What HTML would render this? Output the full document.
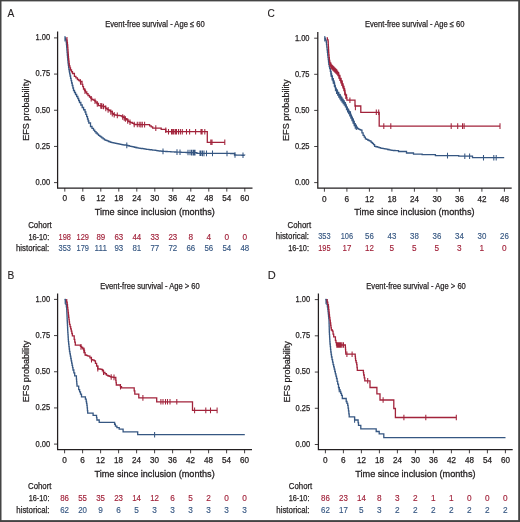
<!DOCTYPE html>
<html><head><meta charset="utf-8"><style>
html,body{margin:0;padding:0;background:#fff;}
body{width:520px;height:522px;overflow:hidden;}
svg{display:block;font-family:"Liberation Sans", sans-serif;will-change:transform;}
</style></head><body>
<svg width="520" height="522" viewBox="0 0 520 522">
<rect x="0" y="0" width="520" height="522" fill="#fff"/>
<rect x="0" y="0" width="520" height="1.4" fill="#444"/>
<rect x="0" y="0" width="1.5" height="522" fill="#444"/>
<rect x="518.2" y="0" width="1.8" height="522" fill="#444"/>
<rect x="0" y="520.1" width="520" height="1.9" fill="#444"/>
<path d="M57.6,31.5 V188.0 H252.5" fill="none" stroke="#231f20" stroke-width="1.25"/>
<path d="M54.00,182.60 H57.6 M54.00,146.43 H57.6 M54.00,110.25 H57.6 M54.00,74.08 H57.6 M54.00,37.90 H57.6 M64.80,188.0 V191.60 M82.80,188.0 V191.60 M100.80,188.0 V191.60 M118.80,188.0 V191.60 M136.80,188.0 V191.60 M154.80,188.0 V191.60 M172.80,188.0 V191.60 M190.80,188.0 V191.60 M208.80,188.0 V191.60 M226.80,188.0 V191.60 M244.80,188.0 V191.60" fill="none" stroke="#231f20" stroke-width="0.85"/>
<text x="50.2" y="185.0" font-size="8.4" fill="#231f20" stroke="#231f20" stroke-width="0.25" text-anchor="end" textLength="14.6" lengthAdjust="spacingAndGlyphs">0.00</text>
<text x="50.2" y="148.82500000000002" font-size="8.4" fill="#231f20" stroke="#231f20" stroke-width="0.25" text-anchor="end" textLength="14.6" lengthAdjust="spacingAndGlyphs">0.25</text>
<text x="50.2" y="112.65" font-size="8.4" fill="#231f20" stroke="#231f20" stroke-width="0.25" text-anchor="end" textLength="14.6" lengthAdjust="spacingAndGlyphs">0.50</text>
<text x="50.2" y="76.47500000000001" font-size="8.4" fill="#231f20" stroke="#231f20" stroke-width="0.25" text-anchor="end" textLength="14.6" lengthAdjust="spacingAndGlyphs">0.75</text>
<text x="50.2" y="40.300000000000004" font-size="8.4" fill="#231f20" stroke="#231f20" stroke-width="0.25" text-anchor="end" textLength="14.6" lengthAdjust="spacingAndGlyphs">1.00</text>
<text x="64.8" y="201.4" font-size="8.4" fill="#231f20" stroke="#231f20" stroke-width="0.25" text-anchor="middle" textLength="4.6" lengthAdjust="spacingAndGlyphs">0</text>
<text x="82.8" y="201.4" font-size="8.4" fill="#231f20" stroke="#231f20" stroke-width="0.25" text-anchor="middle" textLength="4.6" lengthAdjust="spacingAndGlyphs">6</text>
<text x="100.8" y="201.4" font-size="8.4" fill="#231f20" stroke="#231f20" stroke-width="0.25" text-anchor="middle" textLength="9.0" lengthAdjust="spacingAndGlyphs">12</text>
<text x="118.8" y="201.4" font-size="8.4" fill="#231f20" stroke="#231f20" stroke-width="0.25" text-anchor="middle" textLength="9.0" lengthAdjust="spacingAndGlyphs">18</text>
<text x="136.8" y="201.4" font-size="8.4" fill="#231f20" stroke="#231f20" stroke-width="0.25" text-anchor="middle" textLength="9.0" lengthAdjust="spacingAndGlyphs">24</text>
<text x="154.8" y="201.4" font-size="8.4" fill="#231f20" stroke="#231f20" stroke-width="0.25" text-anchor="middle" textLength="9.0" lengthAdjust="spacingAndGlyphs">30</text>
<text x="172.8" y="201.4" font-size="8.4" fill="#231f20" stroke="#231f20" stroke-width="0.25" text-anchor="middle" textLength="9.0" lengthAdjust="spacingAndGlyphs">36</text>
<text x="190.8" y="201.4" font-size="8.4" fill="#231f20" stroke="#231f20" stroke-width="0.25" text-anchor="middle" textLength="9.0" lengthAdjust="spacingAndGlyphs">42</text>
<text x="208.8" y="201.4" font-size="8.4" fill="#231f20" stroke="#231f20" stroke-width="0.25" text-anchor="middle" textLength="9.0" lengthAdjust="spacingAndGlyphs">48</text>
<text x="226.8" y="201.4" font-size="8.4" fill="#231f20" stroke="#231f20" stroke-width="0.25" text-anchor="middle" textLength="9.0" lengthAdjust="spacingAndGlyphs">54</text>
<text x="244.8" y="201.4" font-size="8.4" fill="#231f20" stroke="#231f20" stroke-width="0.25" text-anchor="middle" textLength="9.0" lengthAdjust="spacingAndGlyphs">60</text>
<text x="154.8" y="215.0" font-size="9.6" fill="#231f20" stroke="#231f20" stroke-width="0.3" text-anchor="middle" textLength="120.2" lengthAdjust="spacingAndGlyphs">Time since inclusion (months)</text>
<text transform="translate(29.1,110.05) rotate(-90)" font-size="9.6" fill="#231f20" stroke="#231f20" stroke-width="0.25" text-anchor="middle" textLength="61.5" lengthAdjust="spacingAndGlyphs">EFS probability</text>
<text x="105.2" y="27.0" font-size="8.7" fill="#231f20" stroke="#231f20" stroke-width="0.25" text-anchor="start" textLength="99.5" lengthAdjust="spacingAndGlyphs">Event-free survival - Age ≤ 60</text>
<text x="7.6" y="16.9" font-size="11.2" fill="#231f20" stroke="#231f20" stroke-width="0.12" text-anchor="start" textLength="6.8" lengthAdjust="spacingAndGlyphs">A</text>
<text x="28.2" y="227.7" font-size="8.8" fill="#231f20" stroke="#231f20" stroke-width="0.25" text-anchor="start" textLength="23.5" lengthAdjust="spacingAndGlyphs">Cohort</text>
<text x="49.2" y="239.5" font-size="8.8" fill="#231f20" stroke="#231f20" stroke-width="0.25" text-anchor="end" textLength="20.8" lengthAdjust="spacingAndGlyphs">16-10:</text>
<text x="64.8" y="239.5" font-size="8.8" fill="#a2233b" stroke="#a2233b" stroke-width="0.15" text-anchor="middle" textLength="12.4" lengthAdjust="spacingAndGlyphs">198</text>
<text x="82.8" y="239.5" font-size="8.8" fill="#a2233b" stroke="#a2233b" stroke-width="0.15" text-anchor="middle" textLength="12.4" lengthAdjust="spacingAndGlyphs">129</text>
<text x="100.8" y="239.5" font-size="8.8" fill="#a2233b" stroke="#a2233b" stroke-width="0.15" text-anchor="middle" textLength="8.8" lengthAdjust="spacingAndGlyphs">89</text>
<text x="118.8" y="239.5" font-size="8.8" fill="#a2233b" stroke="#a2233b" stroke-width="0.15" text-anchor="middle" textLength="8.8" lengthAdjust="spacingAndGlyphs">63</text>
<text x="136.8" y="239.5" font-size="8.8" fill="#a2233b" stroke="#a2233b" stroke-width="0.15" text-anchor="middle" textLength="8.8" lengthAdjust="spacingAndGlyphs">44</text>
<text x="154.8" y="239.5" font-size="8.8" fill="#a2233b" stroke="#a2233b" stroke-width="0.15" text-anchor="middle" textLength="8.8" lengthAdjust="spacingAndGlyphs">33</text>
<text x="172.8" y="239.5" font-size="8.8" fill="#a2233b" stroke="#a2233b" stroke-width="0.15" text-anchor="middle" textLength="8.8" lengthAdjust="spacingAndGlyphs">23</text>
<text x="190.8" y="239.5" font-size="8.8" fill="#a2233b" stroke="#a2233b" stroke-width="0.15" text-anchor="middle" textLength="4.6" lengthAdjust="spacingAndGlyphs">8</text>
<text x="208.8" y="239.5" font-size="8.8" fill="#a2233b" stroke="#a2233b" stroke-width="0.15" text-anchor="middle" textLength="4.6" lengthAdjust="spacingAndGlyphs">4</text>
<text x="226.8" y="239.5" font-size="8.8" fill="#a2233b" stroke="#a2233b" stroke-width="0.15" text-anchor="middle" textLength="4.6" lengthAdjust="spacingAndGlyphs">0</text>
<text x="244.8" y="239.5" font-size="8.8" fill="#a2233b" stroke="#a2233b" stroke-width="0.15" text-anchor="middle" textLength="4.6" lengthAdjust="spacingAndGlyphs">0</text>
<text x="49.2" y="251.29999999999998" font-size="8.8" fill="#231f20" stroke="#231f20" stroke-width="0.25" text-anchor="end" textLength="33.2" lengthAdjust="spacingAndGlyphs">historical:</text>
<text x="64.8" y="251.29999999999998" font-size="8.8" fill="#365782" stroke="#365782" stroke-width="0.15" text-anchor="middle" textLength="12.4" lengthAdjust="spacingAndGlyphs">353</text>
<text x="82.8" y="251.29999999999998" font-size="8.8" fill="#365782" stroke="#365782" stroke-width="0.15" text-anchor="middle" textLength="12.4" lengthAdjust="spacingAndGlyphs">179</text>
<text x="100.8" y="251.29999999999998" font-size="8.8" fill="#365782" stroke="#365782" stroke-width="0.15" text-anchor="middle" textLength="12.4" lengthAdjust="spacingAndGlyphs">111</text>
<text x="118.8" y="251.29999999999998" font-size="8.8" fill="#365782" stroke="#365782" stroke-width="0.15" text-anchor="middle" textLength="8.8" lengthAdjust="spacingAndGlyphs">93</text>
<text x="136.8" y="251.29999999999998" font-size="8.8" fill="#365782" stroke="#365782" stroke-width="0.15" text-anchor="middle" textLength="8.8" lengthAdjust="spacingAndGlyphs">81</text>
<text x="154.8" y="251.29999999999998" font-size="8.8" fill="#365782" stroke="#365782" stroke-width="0.15" text-anchor="middle" textLength="8.8" lengthAdjust="spacingAndGlyphs">77</text>
<text x="172.8" y="251.29999999999998" font-size="8.8" fill="#365782" stroke="#365782" stroke-width="0.15" text-anchor="middle" textLength="8.8" lengthAdjust="spacingAndGlyphs">72</text>
<text x="190.8" y="251.29999999999998" font-size="8.8" fill="#365782" stroke="#365782" stroke-width="0.15" text-anchor="middle" textLength="8.8" lengthAdjust="spacingAndGlyphs">66</text>
<text x="208.8" y="251.29999999999998" font-size="8.8" fill="#365782" stroke="#365782" stroke-width="0.15" text-anchor="middle" textLength="8.8" lengthAdjust="spacingAndGlyphs">56</text>
<text x="226.8" y="251.29999999999998" font-size="8.8" fill="#365782" stroke="#365782" stroke-width="0.15" text-anchor="middle" textLength="8.8" lengthAdjust="spacingAndGlyphs">54</text>
<text x="244.8" y="251.29999999999998" font-size="8.8" fill="#365782" stroke="#365782" stroke-width="0.15" text-anchor="middle" textLength="8.8" lengthAdjust="spacingAndGlyphs">48</text>
<path d="M64.80,37.90 L65.50,37.90 L65.50,39.95 L66.20,39.95 L66.20,42.00 L66.42,42.00 L66.42,44.60 L66.64,44.60 L66.64,47.20 L66.86,47.20 L66.86,49.80 L67.08,49.80 L67.08,52.40 L67.30,52.40 L67.30,55.00 L67.53,55.00 L67.53,57.60 L67.77,57.60 L67.77,60.20 L68.00,60.20 L68.00,62.80 L68.30,62.80 L68.30,65.10 L68.60,65.10 L68.60,67.40 L68.90,67.40 L68.90,69.70 L69.30,69.70 L69.30,71.80 L69.70,71.80 L69.70,73.90 L70.10,73.90 L70.10,76.00 L70.60,76.00 L70.60,78.33 L71.10,78.33 L71.10,80.67 L71.60,80.67 L71.60,83.00 L72.23,83.00 L72.23,85.50 L72.87,85.50 L72.87,88.00 L73.50,88.00 L73.50,90.50 L74.50,90.50 L74.50,92.50 L75.50,92.50 L75.50,94.50 L76.65,94.50 L76.65,96.50 L77.80,96.50 L77.80,98.50 L78.65,98.50 L78.65,100.50 L79.50,100.50 L79.50,102.50 L80.85,102.50 L80.85,105.00 L82.20,105.00 L82.20,107.50 L83.60,107.50 L83.60,109.75 L85.00,109.75 L85.00,112.00 L85.83,112.00 L85.83,114.33 L86.67,114.33 L86.67,116.67 L87.50,116.67 L87.50,119.00 L88.15,119.00 L88.15,121.00 L88.80,121.00 L88.80,123.00 L90.50,123.00 L90.50,126.50 L92.00,126.50 L92.00,128.35 L93.50,128.35 L93.50,130.20 L94.75,130.20 L94.75,131.60 L96.00,131.60 L96.00,133.00 L97.25,133.00 L97.25,134.15 L98.50,134.15 L98.50,135.30 L99.60,135.30 L99.60,136.13 L100.70,136.13 L100.70,136.97 L101.80,136.97 L101.80,137.80 L103.15,137.80 L103.15,138.80 L104.50,138.80 L104.50,139.80 L105.83,139.80 L105.83,140.37 L107.17,140.37 L107.17,140.93 L108.50,140.93 L108.50,141.50 L109.67,141.50 L109.67,141.90 L110.83,141.90 L110.83,142.30 L112.00,142.30 L112.00,142.70 L113.22,142.70 L113.22,142.94 L114.44,142.94 L114.44,143.18 L115.66,143.18 L115.66,143.42 L116.88,143.42 L116.88,143.66 L118.10,143.66 L118.10,143.90 L119.30,143.90 L119.30,144.12 L120.50,144.12 L120.50,144.35 L121.70,144.35 L121.70,144.58 L122.90,144.58 L122.90,144.80 L124.20,144.80 L124.20,145.00 L125.50,145.00 L125.50,145.20 L126.80,145.20 L126.80,145.40 L128.07,145.40 L128.07,145.73 L129.33,145.73 L129.33,146.07 L130.60,146.07 L130.60,146.40 L131.86,146.40 L131.86,146.68 L133.12,146.68 L133.12,146.96 L134.38,146.96 L134.38,147.24 L135.64,147.24 L135.64,147.52 L136.90,147.52 L136.90,147.80 L138.45,147.80 L138.45,148.05 L140.00,148.05 L140.00,148.30 L141.30,148.30 L141.30,148.50 L142.60,148.50 L142.60,148.70 L143.90,148.70 L143.90,148.90 L145.20,148.90 L145.20,149.10 L146.50,149.10 L146.50,149.30 L147.72,149.30 L147.72,149.45 L148.93,149.45 L148.93,149.60 L150.15,149.60 L150.15,149.75 L151.37,149.75 L151.37,149.90 L152.58,149.90 L152.58,150.05 L153.80,150.05 L153.80,150.20 L155.20,150.20 L155.20,150.40 L156.60,150.40 L156.60,150.60 L158.00,150.60 L158.00,150.80 L159.40,150.80 L159.40,151.00 L160.80,151.00 L160.80,151.20 L162.05,151.20 L162.05,151.27 L163.31,151.27 L163.31,151.35 L164.56,151.35 L164.56,151.42 L165.82,151.42 L165.82,151.49 L167.07,151.49 L167.07,151.56 L168.33,151.56 L168.33,151.64 L169.58,151.64 L169.58,151.71 L170.84,151.71 L170.84,151.78 L172.09,151.78 L172.09,151.85 L173.35,151.85 L173.35,151.93 L174.60,151.93 L174.60,152.00 L175.89,152.00 L175.89,152.06 L177.18,152.06 L177.18,152.11 L178.47,152.11 L178.47,152.17 L179.76,152.17 L179.76,152.22 L181.04,152.22 L181.04,152.28 L182.33,152.28 L182.33,152.33 L183.62,152.33 L183.62,152.39 L184.91,152.39 L184.91,152.44 L186.20,152.44 L186.20,152.50 L187.54,152.50 L187.54,152.53 L188.88,152.53 L188.88,152.55 L190.21,152.55 L190.21,152.57 L191.55,152.57 L191.55,152.60 L192.89,152.60 L192.89,152.62 L194.22,152.62 L194.22,152.65 L195.56,152.65 L195.56,152.67 L196.90,152.67 L196.90,152.70 L196.90,153.30 L198.20,153.30 L198.20,153.31 L199.49,153.31 L199.49,153.31 L200.79,153.31 L200.79,153.32 L202.09,153.32 L202.09,153.33 L203.38,153.33 L203.38,153.33 L204.68,153.33 L204.68,153.34 L205.98,153.34 L205.98,153.35 L207.27,153.35 L207.27,153.36 L208.57,153.36 L208.57,153.36 L209.87,153.36 L209.87,153.37 L211.16,153.37 L211.16,153.38 L212.46,153.38 L212.46,153.38 L213.76,153.38 L213.76,153.39 L215.05,153.39 L215.05,153.40 L216.35,153.40 L216.35,153.40 L217.64,153.40 L217.64,153.41 L218.94,153.41 L218.94,153.42 L220.24,153.42 L220.24,153.42 L221.53,153.42 L221.53,153.43 L222.83,153.43 L222.83,153.44 L224.13,153.44 L224.13,153.44 L225.42,153.44 L225.42,153.45 L226.72,153.45 L226.72,153.46 L228.02,153.46 L228.02,153.47 L229.31,153.47 L229.31,153.47 L230.61,153.47 L230.61,153.48 L231.91,153.48 L231.91,153.49 L233.20,153.49 L233.20,153.49 L234.50,153.49 L234.50,153.50 L234.50,155.00 L235.78,155.00 L235.78,155.04 L237.05,155.04 L237.05,155.07 L238.32,155.07 L238.32,155.11 L239.60,155.11 L239.60,155.15 L240.88,155.15 L240.88,155.19 L242.15,155.19 L242.15,155.23 L243.42,155.23 L243.42,155.26 L244.70,155.26 L244.70,155.30" fill="none" stroke="#365782" stroke-width="1.3" stroke-linejoin="miter"/>
<path d="M65.00,36.00 V41.60 M126.80,142.60 V148.20 M163.00,148.53 V154.13 M177.00,149.30 V154.90 M180.00,149.43 V155.03 M188.00,149.73 V155.33 M190.00,149.77 V155.37 M191.50,149.80 V155.40 M193.00,149.83 V155.43 M194.00,149.85 V155.45 M195.00,149.86 V155.46 M200.00,150.52 V156.12 M201.00,150.52 V156.12 M202.50,150.53 V156.13 M204.00,150.54 V156.14 M206.50,150.55 V156.15 M212.50,150.58 V156.18 M227.00,150.66 V156.26 M235.00,152.21 V157.81 M243.00,152.45 V158.05" fill="none" stroke="#365782" stroke-width="1.05"/>
<path d="M66.60,37.60 L66.88,37.60 L66.88,40.05 L67.15,40.05 L67.15,42.50 L67.42,42.50 L67.42,44.95 L67.70,44.95 L67.70,47.40 L67.86,47.40 L67.86,49.72 L68.02,49.72 L68.02,52.04 L68.18,52.04 L68.18,54.36 L68.34,54.36 L68.34,56.68 L68.50,56.68 L68.50,59.00 L68.77,59.00 L68.77,61.27 L69.03,61.27 L69.03,63.53 L69.30,63.53 L69.30,65.80 L69.90,65.80 L69.90,67.90 L70.50,67.90 L70.50,70.00 L71.50,70.00 L71.50,71.75 L72.50,71.75 L72.50,73.50 L74.40,73.50 L74.40,76.30 L75.90,76.30 L75.90,77.90 L77.40,77.90 L77.40,79.50 L78.80,79.50 L78.80,80.50 L80.20,80.50 L80.20,81.50 L82.00,81.50 L82.00,84.30 L82.75,84.30 L82.75,86.65 L83.50,86.65 L83.50,89.00 L84.50,89.00 L84.50,90.50 L85.50,90.50 L85.50,92.00 L86.75,92.00 L86.75,93.75 L88.00,93.75 L88.00,95.50 L89.50,95.50 L89.50,97.00 L90.65,97.00 L90.65,98.15 L91.80,98.15 L91.80,99.30 L93.20,99.30 L93.20,100.05 L94.60,100.05 L94.60,100.80 L95.75,100.80 L95.75,102.15 L96.90,102.15 L96.90,103.50 L98.50,103.50 L98.50,105.60 L100.40,105.60 L100.40,105.80 L101.95,105.80 L101.95,106.15 L103.50,106.15 L103.50,106.50 L105.40,106.50 L105.40,108.10 L106.55,108.10 L106.55,108.85 L107.70,108.85 L107.70,109.60 L109.05,109.60 L109.05,110.55 L110.40,110.55 L110.40,111.50 L112.30,111.50 L112.30,113.60 L113.45,113.60 L113.45,114.30 L114.60,114.30 L114.60,115.00 L115.84,115.00 L115.84,115.16 L117.08,115.16 L117.08,115.32 L118.32,115.32 L118.32,115.48 L119.56,115.48 L119.56,115.64 L120.80,115.64 L120.80,115.80 L121.95,115.80 L121.95,116.55 L123.10,116.55 L123.10,117.30 L125.00,117.30 L125.00,118.60 L126.55,118.60 L126.55,119.95 L128.10,119.95 L128.10,121.30 L129.25,121.30 L129.25,121.90 L130.40,121.90 L130.40,122.50 L132.30,122.50 L132.30,123.40 L134.20,123.40 L134.20,124.50 L135.46,124.50 L135.46,124.52 L136.73,124.52 L136.73,124.54 L137.99,124.54 L137.99,124.55 L139.25,124.55 L139.25,124.57 L140.52,124.57 L140.52,124.59 L141.78,124.59 L141.78,124.61 L143.05,124.61 L143.05,124.63 L144.31,124.63 L144.31,124.65 L145.57,124.65 L145.57,124.66 L146.84,124.66 L146.84,124.68 L148.10,124.68 L148.10,124.70 L149.60,124.70 L149.60,125.80 L151.20,125.80 L151.20,126.90 L152.70,126.90 L152.70,128.10 L160.40,128.10 L161.20,128.10 L161.20,129.30 L165.80,129.30 L165.80,131.70 L207.30,131.70 L207.30,142.30 L224.80,142.30" fill="none" stroke="#a2233b" stroke-width="1.3" stroke-linejoin="miter"/>
<path d="M80.50,79.17 V84.77 M85.00,88.45 V94.05 M91.20,95.90 V101.50 M95.00,98.47 V104.07 M97.30,101.22 V106.82 M100.80,103.09 V108.69 M101.90,103.34 V108.94 M103.50,103.70 V109.30 M105.80,105.56 V111.16 M108.10,107.08 V112.68 M110.80,109.14 V114.74 M112.30,110.80 V116.40 M114.20,111.96 V117.56 M117.30,112.55 V118.15 M122.70,114.24 V119.84 M124.20,115.25 V120.85 M125.40,116.15 V121.75 M127.70,118.15 V123.75 M130.00,119.49 V125.09 M134.20,121.70 V127.30 M137.30,121.74 V127.34 M139.20,121.77 V127.37 M140.80,121.79 V127.39 M142.30,121.82 V127.42 M144.60,121.85 V127.45 M155.80,125.30 V130.90 M165.80,127.40 V133.00 M168.50,128.90 V134.50 M171.50,128.90 V134.50 M172.70,128.90 V134.50 M173.80,128.90 V134.50 M175.40,128.90 V134.50 M176.50,128.90 V134.50 M178.50,128.90 V134.50 M180.40,128.90 V134.50 M182.30,128.90 V134.50 M186.50,128.90 V134.50 M189.60,128.90 V134.50 M195.60,128.90 V134.50 M201.00,128.90 V134.50 M202.10,128.90 V134.50 M204.80,128.90 V134.50 M210.80,139.50 V145.10 M212.00,139.50 V145.10 M224.80,139.50 V145.10" fill="none" stroke="#a2233b" stroke-width="1.05"/>
<path d="M317.8,32.0 V188.1 H511.7" fill="none" stroke="#231f20" stroke-width="1.25"/>
<path d="M314.20,182.60 H317.8 M314.20,146.50 H317.8 M314.20,110.40 H317.8 M314.20,74.30 H317.8 M314.20,38.20 H317.8 M324.40,188.1 V191.70 M346.90,188.1 V191.70 M369.40,188.1 V191.70 M391.90,188.1 V191.70 M414.40,188.1 V191.70 M436.90,188.1 V191.70 M459.40,188.1 V191.70 M481.90,188.1 V191.70 M504.40,188.1 V191.70" fill="none" stroke="#231f20" stroke-width="0.85"/>
<text x="309.5" y="185.0" font-size="8.4" fill="#231f20" stroke="#231f20" stroke-width="0.25" text-anchor="end" textLength="14.6" lengthAdjust="spacingAndGlyphs">0.00</text>
<text x="309.5" y="148.9" font-size="8.4" fill="#231f20" stroke="#231f20" stroke-width="0.25" text-anchor="end" textLength="14.6" lengthAdjust="spacingAndGlyphs">0.25</text>
<text x="309.5" y="112.8" font-size="8.4" fill="#231f20" stroke="#231f20" stroke-width="0.25" text-anchor="end" textLength="14.6" lengthAdjust="spacingAndGlyphs">0.50</text>
<text x="309.5" y="76.69999999999999" font-size="8.4" fill="#231f20" stroke="#231f20" stroke-width="0.25" text-anchor="end" textLength="14.6" lengthAdjust="spacingAndGlyphs">0.75</text>
<text x="309.5" y="40.59999999999999" font-size="8.4" fill="#231f20" stroke="#231f20" stroke-width="0.25" text-anchor="end" textLength="14.6" lengthAdjust="spacingAndGlyphs">1.00</text>
<text x="324.4" y="201.5" font-size="8.4" fill="#231f20" stroke="#231f20" stroke-width="0.25" text-anchor="middle" textLength="4.6" lengthAdjust="spacingAndGlyphs">0</text>
<text x="346.9" y="201.5" font-size="8.4" fill="#231f20" stroke="#231f20" stroke-width="0.25" text-anchor="middle" textLength="4.6" lengthAdjust="spacingAndGlyphs">6</text>
<text x="369.4" y="201.5" font-size="8.4" fill="#231f20" stroke="#231f20" stroke-width="0.25" text-anchor="middle" textLength="9.0" lengthAdjust="spacingAndGlyphs">12</text>
<text x="391.9" y="201.5" font-size="8.4" fill="#231f20" stroke="#231f20" stroke-width="0.25" text-anchor="middle" textLength="9.0" lengthAdjust="spacingAndGlyphs">18</text>
<text x="414.4" y="201.5" font-size="8.4" fill="#231f20" stroke="#231f20" stroke-width="0.25" text-anchor="middle" textLength="9.0" lengthAdjust="spacingAndGlyphs">24</text>
<text x="436.9" y="201.5" font-size="8.4" fill="#231f20" stroke="#231f20" stroke-width="0.25" text-anchor="middle" textLength="9.0" lengthAdjust="spacingAndGlyphs">30</text>
<text x="459.4" y="201.5" font-size="8.4" fill="#231f20" stroke="#231f20" stroke-width="0.25" text-anchor="middle" textLength="9.0" lengthAdjust="spacingAndGlyphs">36</text>
<text x="481.9" y="201.5" font-size="8.4" fill="#231f20" stroke="#231f20" stroke-width="0.25" text-anchor="middle" textLength="9.0" lengthAdjust="spacingAndGlyphs">42</text>
<text x="504.4" y="201.5" font-size="8.4" fill="#231f20" stroke="#231f20" stroke-width="0.25" text-anchor="middle" textLength="9.0" lengthAdjust="spacingAndGlyphs">48</text>
<text x="414.4" y="215.1" font-size="9.6" fill="#231f20" stroke="#231f20" stroke-width="0.3" text-anchor="middle" textLength="120.2" lengthAdjust="spacingAndGlyphs">Time since inclusion (months)</text>
<text transform="translate(288.6,110.20) rotate(-90)" font-size="9.6" fill="#231f20" stroke="#231f20" stroke-width="0.25" text-anchor="middle" textLength="61.5" lengthAdjust="spacingAndGlyphs">EFS probability</text>
<text x="365.0" y="27.0" font-size="8.7" fill="#231f20" stroke="#231f20" stroke-width="0.25" text-anchor="start" textLength="99.5" lengthAdjust="spacingAndGlyphs">Event-free survival - Age ≤ 60</text>
<text x="267.4" y="17.2" font-size="11.2" fill="#231f20" stroke="#231f20" stroke-width="0.12" text-anchor="start" textLength="7.3" lengthAdjust="spacingAndGlyphs">C</text>
<text x="287.6" y="227.6" font-size="8.8" fill="#231f20" stroke="#231f20" stroke-width="0.25" text-anchor="start" textLength="23.5" lengthAdjust="spacingAndGlyphs">Cohort</text>
<text x="309.0" y="239.4" font-size="8.8" fill="#231f20" stroke="#231f20" stroke-width="0.25" text-anchor="end" textLength="33.2" lengthAdjust="spacingAndGlyphs">historical:</text>
<text x="324.4" y="239.4" font-size="8.8" fill="#365782" stroke="#365782" stroke-width="0.15" text-anchor="middle" textLength="12.4" lengthAdjust="spacingAndGlyphs">353</text>
<text x="346.9" y="239.4" font-size="8.8" fill="#365782" stroke="#365782" stroke-width="0.15" text-anchor="middle" textLength="12.4" lengthAdjust="spacingAndGlyphs">106</text>
<text x="369.4" y="239.4" font-size="8.8" fill="#365782" stroke="#365782" stroke-width="0.15" text-anchor="middle" textLength="8.8" lengthAdjust="spacingAndGlyphs">56</text>
<text x="391.9" y="239.4" font-size="8.8" fill="#365782" stroke="#365782" stroke-width="0.15" text-anchor="middle" textLength="8.8" lengthAdjust="spacingAndGlyphs">43</text>
<text x="414.4" y="239.4" font-size="8.8" fill="#365782" stroke="#365782" stroke-width="0.15" text-anchor="middle" textLength="8.8" lengthAdjust="spacingAndGlyphs">38</text>
<text x="436.9" y="239.4" font-size="8.8" fill="#365782" stroke="#365782" stroke-width="0.15" text-anchor="middle" textLength="8.8" lengthAdjust="spacingAndGlyphs">36</text>
<text x="459.4" y="239.4" font-size="8.8" fill="#365782" stroke="#365782" stroke-width="0.15" text-anchor="middle" textLength="8.8" lengthAdjust="spacingAndGlyphs">34</text>
<text x="481.9" y="239.4" font-size="8.8" fill="#365782" stroke="#365782" stroke-width="0.15" text-anchor="middle" textLength="8.8" lengthAdjust="spacingAndGlyphs">30</text>
<text x="504.4" y="239.4" font-size="8.8" fill="#365782" stroke="#365782" stroke-width="0.15" text-anchor="middle" textLength="8.8" lengthAdjust="spacingAndGlyphs">26</text>
<text x="309.0" y="251.2" font-size="8.8" fill="#231f20" stroke="#231f20" stroke-width="0.25" text-anchor="end" textLength="20.8" lengthAdjust="spacingAndGlyphs">16-10:</text>
<text x="324.4" y="251.2" font-size="8.8" fill="#a2233b" stroke="#a2233b" stroke-width="0.15" text-anchor="middle" textLength="12.4" lengthAdjust="spacingAndGlyphs">195</text>
<text x="346.9" y="251.2" font-size="8.8" fill="#a2233b" stroke="#a2233b" stroke-width="0.15" text-anchor="middle" textLength="8.8" lengthAdjust="spacingAndGlyphs">17</text>
<text x="369.4" y="251.2" font-size="8.8" fill="#a2233b" stroke="#a2233b" stroke-width="0.15" text-anchor="middle" textLength="8.8" lengthAdjust="spacingAndGlyphs">12</text>
<text x="391.9" y="251.2" font-size="8.8" fill="#a2233b" stroke="#a2233b" stroke-width="0.15" text-anchor="middle" textLength="4.6" lengthAdjust="spacingAndGlyphs">5</text>
<text x="414.4" y="251.2" font-size="8.8" fill="#a2233b" stroke="#a2233b" stroke-width="0.15" text-anchor="middle" textLength="4.6" lengthAdjust="spacingAndGlyphs">5</text>
<text x="436.9" y="251.2" font-size="8.8" fill="#a2233b" stroke="#a2233b" stroke-width="0.15" text-anchor="middle" textLength="4.6" lengthAdjust="spacingAndGlyphs">5</text>
<text x="459.4" y="251.2" font-size="8.8" fill="#a2233b" stroke="#a2233b" stroke-width="0.15" text-anchor="middle" textLength="4.6" lengthAdjust="spacingAndGlyphs">3</text>
<text x="481.9" y="251.2" font-size="8.8" fill="#a2233b" stroke="#a2233b" stroke-width="0.15" text-anchor="middle" textLength="4.6" lengthAdjust="spacingAndGlyphs">1</text>
<text x="504.4" y="251.2" font-size="8.8" fill="#a2233b" stroke="#a2233b" stroke-width="0.15" text-anchor="middle" textLength="4.6" lengthAdjust="spacingAndGlyphs">0</text>
<path d="M324.40,38.20 L325.30,38.20 L325.30,40.10 L326.20,40.10 L326.20,42.00 L326.50,42.00 L326.50,44.60 L326.80,44.60 L326.80,47.20 L327.10,47.20 L327.10,49.80 L327.40,49.80 L327.40,52.40 L327.70,52.40 L327.70,55.00 L327.98,55.00 L327.98,57.33 L328.25,57.33 L328.25,59.65 L328.52,59.65 L328.52,61.97 L328.80,61.97 L328.80,64.30 L329.25,64.30 L329.25,66.50 L329.70,66.50 L329.70,68.70 L330.33,68.70 L330.33,71.27 L330.97,71.27 L330.97,73.83 L331.60,73.83 L331.60,76.40 L332.40,76.40 L332.40,78.67 L333.20,78.67 L333.20,80.93 L334.00,80.93 L334.00,83.20 L334.60,83.20 L334.60,85.43 L335.20,85.43 L335.20,87.67 L335.80,87.67 L335.80,89.90 L337.20,89.90 L337.20,92.30 L338.60,92.30 L338.60,94.70 L340.10,94.70 L340.10,97.10 L341.60,97.10 L341.60,99.50 L342.77,99.50 L342.77,101.10 L343.93,101.10 L343.93,102.70 L345.10,102.70 L345.10,104.30 L346.00,104.30 L346.00,106.55 L346.90,106.55 L346.90,108.80 L347.90,108.80 L347.90,110.40 L348.90,110.40 L348.90,112.00 L350.40,112.00 L350.40,115.20 L351.37,115.20 L351.37,117.30 L352.33,117.30 L352.33,119.40 L353.30,119.40 L353.30,121.50 L354.15,121.50 L354.15,123.55 L355.00,123.55 L355.00,125.60 L356.15,125.60 L356.15,127.05 L357.30,127.05 L357.30,128.50 L358.47,128.50 L358.47,129.07 L359.63,129.07 L359.63,129.63 L360.80,129.63 L360.80,130.20 L361.95,130.20 L361.95,132.80 L363.10,132.80 L363.10,135.40 L364.25,135.40 L364.25,137.10 L365.40,137.10 L365.40,138.80 L366.55,138.80 L366.55,139.40 L367.70,139.40 L367.70,140.00 L368.85,140.00 L368.85,140.60 L370.00,140.60 L370.00,141.20 L371.17,141.20 L371.17,142.33 L372.33,142.33 L372.33,143.47 L373.50,143.47 L373.50,144.60 L374.60,144.60 L374.60,146.30 L376.05,146.30 L376.05,146.75 L377.50,146.75 L377.50,147.20 L378.95,147.20 L378.95,147.65 L380.40,147.65 L380.40,148.10 L381.85,148.10 L381.85,148.38 L383.30,148.38 L383.30,148.65 L384.75,148.65 L384.75,148.92 L386.20,148.92 L386.20,149.20 L387.62,149.20 L387.62,149.50 L389.05,149.50 L389.05,149.80 L390.47,149.80 L390.47,150.10 L391.90,150.10 L391.90,150.40 L393.45,150.40 L393.45,150.50 L395.00,150.50 L395.00,150.60 L398.50,150.60 L398.50,151.50 L406.50,151.50 L406.50,153.00 L413.50,153.00 L413.50,154.10 L422.10,154.10 L422.10,154.60 L435.40,154.60 L435.40,155.60 L458.70,155.60 L458.70,156.20 L472.50,156.20 L472.50,157.70 L504.20,157.70" fill="none" stroke="#365782" stroke-width="1.3" stroke-linejoin="miter"/>
<path d="M324.80,36.00 V41.60 M331.00,71.17 V76.77 M332.10,75.02 V80.62 M333.20,78.13 V83.73 M334.30,81.52 V87.12 M335.40,85.61 V91.21 M336.50,88.30 V93.90 M337.60,90.19 V95.79 M338.70,92.06 V97.66 M339.80,93.82 V99.42 M340.90,95.58 V101.18 M342.00,97.25 V102.85 M343.10,98.76 V104.36 M344.20,100.27 V105.87 M345.30,102.00 V107.60 M346.40,104.75 V110.35 M347.50,106.96 V112.56 M348.60,108.72 V114.32 M349.70,110.91 V116.51 M350.80,113.27 V118.87 M351.90,115.66 V121.26 M353.00,118.05 V123.65 M354.10,120.63 V126.23 M355.20,123.05 V128.65 M356.30,124.44 V130.04 M447.50,152.80 V158.40 M464.80,153.40 V159.00 M469.60,153.40 V159.00 M483.50,154.90 V160.50 M493.80,154.90 V160.50 M496.20,154.90 V160.50" fill="none" stroke="#365782" stroke-width="1.05"/>
<path d="M326.60,37.90 L327.35,37.90 L327.35,39.95 L328.10,39.95 L328.10,42.00 L328.24,42.00 L328.24,44.60 L328.38,44.60 L328.38,47.20 L328.52,47.20 L328.52,49.80 L328.66,49.80 L328.66,52.40 L328.80,52.40 L328.80,55.00 L329.07,55.00 L329.07,57.60 L329.33,57.60 L329.33,60.20 L329.60,60.20 L329.60,62.80 L330.70,62.80 L330.70,65.80 L332.10,65.80 L332.10,67.25 L333.50,67.25 L333.50,68.70 L334.80,68.70 L334.80,70.00 L336.10,70.00 L336.10,71.30 L337.40,71.30 L337.40,72.60 L338.60,72.60 L338.60,75.45 L339.80,75.45 L339.80,78.30 L341.00,78.30 L341.00,81.20 L342.20,81.20 L342.20,84.10 L343.00,84.10 L343.00,86.33 L343.80,86.33 L343.80,88.57 L344.60,88.57 L344.60,90.80 L344.90,90.80 L344.90,92.90 L345.20,92.90 L345.20,95.00 L346.50,95.00 L346.50,97.60 L346.90,97.60 L346.90,100.20 L355.00,100.20 L355.00,106.00 L360.80,106.00 L360.80,112.30 L379.20,112.30 L379.20,126.10 L500.00,126.10" fill="none" stroke="#a2233b" stroke-width="1.3" stroke-linejoin="miter"/>
<path d="M329.80,60.55 V66.15 M330.80,63.10 V68.70 M331.80,64.14 V69.74 M332.80,65.18 V70.78 M333.80,66.20 V71.80 M334.80,67.20 V72.80 M335.80,68.20 V73.80 M336.80,69.20 V74.80 M337.80,70.75 V76.35 M338.80,73.13 V78.73 M339.80,75.50 V81.10 M340.80,77.92 V83.52 M341.80,80.33 V85.93 M342.80,82.98 V88.58 M343.80,85.77 V91.37 M344.80,89.40 V95.00 M345.80,93.40 V99.00 M349.90,97.40 V103.00 M355.40,104.70 V110.30 M376.30,109.50 V115.10 M378.70,109.50 V115.10 M383.80,123.30 V128.90 M390.80,123.30 V128.90 M451.20,123.30 V128.90 M457.70,123.30 V128.90 M462.50,123.30 V128.90 M464.10,123.30 V128.90 M500.00,123.30 V128.90" fill="none" stroke="#a2233b" stroke-width="1.05"/>
<path d="M57.6,293.5 V449.7 H252.0" fill="none" stroke="#231f20" stroke-width="1.25"/>
<path d="M54.00,444.10 H57.6 M54.00,407.93 H57.6 M54.00,371.75 H57.6 M54.00,335.58 H57.6 M54.00,299.40 H57.6 M64.60,449.7 V453.30 M82.60,449.7 V453.30 M100.60,449.7 V453.30 M118.60,449.7 V453.30 M136.60,449.7 V453.30 M154.60,449.7 V453.30 M172.60,449.7 V453.30 M190.60,449.7 V453.30 M208.60,449.7 V453.30 M226.60,449.7 V453.30 M244.60,449.7 V453.30" fill="none" stroke="#231f20" stroke-width="0.85"/>
<text x="50.1" y="446.5" font-size="8.4" fill="#231f20" stroke="#231f20" stroke-width="0.25" text-anchor="end" textLength="14.6" lengthAdjust="spacingAndGlyphs">0.00</text>
<text x="50.1" y="410.325" font-size="8.4" fill="#231f20" stroke="#231f20" stroke-width="0.25" text-anchor="end" textLength="14.6" lengthAdjust="spacingAndGlyphs">0.25</text>
<text x="50.1" y="374.15" font-size="8.4" fill="#231f20" stroke="#231f20" stroke-width="0.25" text-anchor="end" textLength="14.6" lengthAdjust="spacingAndGlyphs">0.50</text>
<text x="50.1" y="337.975" font-size="8.4" fill="#231f20" stroke="#231f20" stroke-width="0.25" text-anchor="end" textLength="14.6" lengthAdjust="spacingAndGlyphs">0.75</text>
<text x="50.1" y="301.8" font-size="8.4" fill="#231f20" stroke="#231f20" stroke-width="0.25" text-anchor="end" textLength="14.6" lengthAdjust="spacingAndGlyphs">1.00</text>
<text x="64.6" y="463.09999999999997" font-size="8.4" fill="#231f20" stroke="#231f20" stroke-width="0.25" text-anchor="middle" textLength="4.6" lengthAdjust="spacingAndGlyphs">0</text>
<text x="82.6" y="463.09999999999997" font-size="8.4" fill="#231f20" stroke="#231f20" stroke-width="0.25" text-anchor="middle" textLength="4.6" lengthAdjust="spacingAndGlyphs">6</text>
<text x="100.6" y="463.09999999999997" font-size="8.4" fill="#231f20" stroke="#231f20" stroke-width="0.25" text-anchor="middle" textLength="9.0" lengthAdjust="spacingAndGlyphs">12</text>
<text x="118.6" y="463.09999999999997" font-size="8.4" fill="#231f20" stroke="#231f20" stroke-width="0.25" text-anchor="middle" textLength="9.0" lengthAdjust="spacingAndGlyphs">18</text>
<text x="136.6" y="463.09999999999997" font-size="8.4" fill="#231f20" stroke="#231f20" stroke-width="0.25" text-anchor="middle" textLength="9.0" lengthAdjust="spacingAndGlyphs">24</text>
<text x="154.6" y="463.09999999999997" font-size="8.4" fill="#231f20" stroke="#231f20" stroke-width="0.25" text-anchor="middle" textLength="9.0" lengthAdjust="spacingAndGlyphs">30</text>
<text x="172.6" y="463.09999999999997" font-size="8.4" fill="#231f20" stroke="#231f20" stroke-width="0.25" text-anchor="middle" textLength="9.0" lengthAdjust="spacingAndGlyphs">36</text>
<text x="190.6" y="463.09999999999997" font-size="8.4" fill="#231f20" stroke="#231f20" stroke-width="0.25" text-anchor="middle" textLength="9.0" lengthAdjust="spacingAndGlyphs">42</text>
<text x="208.6" y="463.09999999999997" font-size="8.4" fill="#231f20" stroke="#231f20" stroke-width="0.25" text-anchor="middle" textLength="9.0" lengthAdjust="spacingAndGlyphs">48</text>
<text x="226.6" y="463.09999999999997" font-size="8.4" fill="#231f20" stroke="#231f20" stroke-width="0.25" text-anchor="middle" textLength="9.0" lengthAdjust="spacingAndGlyphs">54</text>
<text x="244.6" y="463.09999999999997" font-size="8.4" fill="#231f20" stroke="#231f20" stroke-width="0.25" text-anchor="middle" textLength="9.0" lengthAdjust="spacingAndGlyphs">60</text>
<text x="154.6" y="476.7" font-size="9.6" fill="#231f20" stroke="#231f20" stroke-width="0.3" text-anchor="middle" textLength="120.2" lengthAdjust="spacingAndGlyphs">Time since inclusion (months)</text>
<text transform="translate(29.3,371.55) rotate(-90)" font-size="9.6" fill="#231f20" stroke="#231f20" stroke-width="0.25" text-anchor="middle" textLength="61.5" lengthAdjust="spacingAndGlyphs">EFS probability</text>
<text x="100.2" y="288.8" font-size="8.7" fill="#231f20" stroke="#231f20" stroke-width="0.25" text-anchor="start" textLength="99.5" lengthAdjust="spacingAndGlyphs">Event-free survival - Age &gt; 60</text>
<text x="7.6" y="278.8" font-size="11.2" fill="#231f20" stroke="#231f20" stroke-width="0.12" text-anchor="start" textLength="6.8" lengthAdjust="spacingAndGlyphs">B</text>
<text x="28.0" y="488.9" font-size="8.8" fill="#231f20" stroke="#231f20" stroke-width="0.25" text-anchor="start" textLength="23.5" lengthAdjust="spacingAndGlyphs">Cohort</text>
<text x="49.5" y="500.7" font-size="8.8" fill="#231f20" stroke="#231f20" stroke-width="0.25" text-anchor="end" textLength="20.8" lengthAdjust="spacingAndGlyphs">16-10:</text>
<text x="64.6" y="500.7" font-size="8.8" fill="#a2233b" stroke="#a2233b" stroke-width="0.15" text-anchor="middle" textLength="8.8" lengthAdjust="spacingAndGlyphs">86</text>
<text x="82.6" y="500.7" font-size="8.8" fill="#a2233b" stroke="#a2233b" stroke-width="0.15" text-anchor="middle" textLength="8.8" lengthAdjust="spacingAndGlyphs">55</text>
<text x="100.6" y="500.7" font-size="8.8" fill="#a2233b" stroke="#a2233b" stroke-width="0.15" text-anchor="middle" textLength="8.8" lengthAdjust="spacingAndGlyphs">35</text>
<text x="118.6" y="500.7" font-size="8.8" fill="#a2233b" stroke="#a2233b" stroke-width="0.15" text-anchor="middle" textLength="8.8" lengthAdjust="spacingAndGlyphs">23</text>
<text x="136.6" y="500.7" font-size="8.8" fill="#a2233b" stroke="#a2233b" stroke-width="0.15" text-anchor="middle" textLength="8.8" lengthAdjust="spacingAndGlyphs">14</text>
<text x="154.6" y="500.7" font-size="8.8" fill="#a2233b" stroke="#a2233b" stroke-width="0.15" text-anchor="middle" textLength="8.8" lengthAdjust="spacingAndGlyphs">12</text>
<text x="172.6" y="500.7" font-size="8.8" fill="#a2233b" stroke="#a2233b" stroke-width="0.15" text-anchor="middle" textLength="4.6" lengthAdjust="spacingAndGlyphs">6</text>
<text x="190.6" y="500.7" font-size="8.8" fill="#a2233b" stroke="#a2233b" stroke-width="0.15" text-anchor="middle" textLength="4.6" lengthAdjust="spacingAndGlyphs">5</text>
<text x="208.6" y="500.7" font-size="8.8" fill="#a2233b" stroke="#a2233b" stroke-width="0.15" text-anchor="middle" textLength="4.6" lengthAdjust="spacingAndGlyphs">2</text>
<text x="226.6" y="500.7" font-size="8.8" fill="#a2233b" stroke="#a2233b" stroke-width="0.15" text-anchor="middle" textLength="4.6" lengthAdjust="spacingAndGlyphs">0</text>
<text x="244.6" y="500.7" font-size="8.8" fill="#a2233b" stroke="#a2233b" stroke-width="0.15" text-anchor="middle" textLength="4.6" lengthAdjust="spacingAndGlyphs">0</text>
<text x="49.5" y="512.5" font-size="8.8" fill="#231f20" stroke="#231f20" stroke-width="0.25" text-anchor="end" textLength="33.2" lengthAdjust="spacingAndGlyphs">historical:</text>
<text x="64.6" y="512.5" font-size="8.8" fill="#365782" stroke="#365782" stroke-width="0.15" text-anchor="middle" textLength="8.8" lengthAdjust="spacingAndGlyphs">62</text>
<text x="82.6" y="512.5" font-size="8.8" fill="#365782" stroke="#365782" stroke-width="0.15" text-anchor="middle" textLength="8.8" lengthAdjust="spacingAndGlyphs">20</text>
<text x="100.6" y="512.5" font-size="8.8" fill="#365782" stroke="#365782" stroke-width="0.15" text-anchor="middle" textLength="4.6" lengthAdjust="spacingAndGlyphs">9</text>
<text x="118.6" y="512.5" font-size="8.8" fill="#365782" stroke="#365782" stroke-width="0.15" text-anchor="middle" textLength="4.6" lengthAdjust="spacingAndGlyphs">6</text>
<text x="136.6" y="512.5" font-size="8.8" fill="#365782" stroke="#365782" stroke-width="0.15" text-anchor="middle" textLength="4.6" lengthAdjust="spacingAndGlyphs">5</text>
<text x="154.6" y="512.5" font-size="8.8" fill="#365782" stroke="#365782" stroke-width="0.15" text-anchor="middle" textLength="4.6" lengthAdjust="spacingAndGlyphs">3</text>
<text x="172.6" y="512.5" font-size="8.8" fill="#365782" stroke="#365782" stroke-width="0.15" text-anchor="middle" textLength="4.6" lengthAdjust="spacingAndGlyphs">3</text>
<text x="190.6" y="512.5" font-size="8.8" fill="#365782" stroke="#365782" stroke-width="0.15" text-anchor="middle" textLength="4.6" lengthAdjust="spacingAndGlyphs">3</text>
<text x="208.6" y="512.5" font-size="8.8" fill="#365782" stroke="#365782" stroke-width="0.15" text-anchor="middle" textLength="4.6" lengthAdjust="spacingAndGlyphs">3</text>
<text x="226.6" y="512.5" font-size="8.8" fill="#365782" stroke="#365782" stroke-width="0.15" text-anchor="middle" textLength="4.6" lengthAdjust="spacingAndGlyphs">3</text>
<text x="244.6" y="512.5" font-size="8.8" fill="#365782" stroke="#365782" stroke-width="0.15" text-anchor="middle" textLength="4.6" lengthAdjust="spacingAndGlyphs">3</text>
<path d="M64.60,299.60 L65.20,299.60 L65.58,299.60 L65.58,302.03 L65.95,302.03 L65.95,304.45 L66.33,304.45 L66.33,306.88 L66.70,306.88 L66.70,309.30 L66.80,309.30 L66.80,311.60 L66.90,311.60 L66.90,313.90 L67.00,313.90 L67.00,316.20 L67.10,316.20 L67.10,318.50 L67.20,318.50 L67.20,320.80 L67.32,320.80 L67.32,323.12 L67.44,323.12 L67.44,325.44 L67.56,325.44 L67.56,327.76 L67.68,327.76 L67.68,330.08 L67.80,330.08 L67.80,332.40 L67.95,332.40 L67.95,334.70 L68.10,334.70 L68.10,337.00 L68.25,337.00 L68.25,339.30 L68.40,339.30 L68.40,341.60 L68.68,341.60 L68.68,344.08 L68.95,344.08 L68.95,346.55 L69.22,346.55 L69.22,349.02 L69.50,349.02 L69.50,351.50 L69.92,351.50 L69.92,353.82 L70.35,353.82 L70.35,356.15 L70.78,356.15 L70.78,358.48 L71.20,358.48 L71.20,360.80 L71.65,360.80 L71.65,363.10 L72.10,363.10 L72.10,365.40 L72.55,365.40 L72.55,367.70 L73.00,367.70 L73.00,370.00 L73.85,370.00 L73.85,372.90 L74.70,372.90 L74.70,375.80 L76.40,375.80 L76.40,379.20 L76.60,379.20 L76.60,381.53 L76.80,381.53 L76.80,383.87 L77.00,383.87 L77.00,386.20 L78.70,386.20 L78.70,389.60 L79.60,389.60 L79.60,391.90 L80.50,391.90 L80.50,394.20 L81.50,394.20 L81.50,396.90 L84.60,396.90 L85.40,396.90 L85.40,399.20 L86.20,399.20 L86.20,401.50 L86.55,401.50 L86.55,403.45 L86.90,403.45 L86.90,405.40 L87.17,405.40 L87.17,407.97 L87.43,407.97 L87.43,410.53 L87.70,410.53 L87.70,413.10 L92.30,413.10 L93.10,413.10 L93.10,415.40 L96.20,415.40 L96.55,415.40 L96.55,417.70 L96.90,417.70 L96.90,420.00 L98.50,420.00 L99.20,420.00 L99.20,422.30 L113.80,422.30 L114.60,422.30 L114.60,424.25 L115.40,424.25 L115.40,426.20 L116.90,426.20 L116.90,427.70 L118.50,427.70 L119.20,427.70 L119.20,429.20 L122.30,429.20 L123.10,429.20 L123.10,431.80 L136.90,431.80 L137.70,431.80 L137.70,434.70 L244.80,434.70" fill="none" stroke="#365782" stroke-width="1.3" stroke-linejoin="miter"/>
<path d="M65.20,298.70 V304.30 M154.60,431.90 V437.50" fill="none" stroke="#365782" stroke-width="1.05"/>
<path d="M66.20,299.60 L66.70,299.60 L66.70,302.15 L67.20,302.15 L67.20,304.70 L67.50,304.70 L67.50,307.30 L67.80,307.30 L67.80,309.90 L68.10,309.90 L68.10,312.50 L68.40,312.50 L68.40,315.10 L68.68,315.10 L68.68,317.40 L68.95,317.40 L68.95,319.70 L69.22,319.70 L69.22,322.00 L69.50,322.00 L69.50,324.30 L70.10,324.30 L70.10,326.60 L70.70,326.60 L70.70,328.90 L71.27,328.90 L71.27,331.20 L71.83,331.20 L71.83,333.50 L72.40,333.50 L72.40,335.80 L74.20,335.80 L74.20,339.30 L74.75,339.30 L74.75,342.20 L75.30,342.20 L75.30,345.10 L79.30,345.10 L80.45,345.10 L80.45,346.30 L81.60,346.30 L81.60,347.50 L82.75,347.50 L82.75,348.95 L83.90,348.95 L83.90,350.40 L84.50,350.40 L84.50,352.70 L85.10,352.70 L85.10,355.00 L86.23,355.00 L86.23,355.40 L87.37,355.40 L87.37,355.80 L88.50,355.80 L88.50,356.20 L89.95,356.20 L89.95,357.90 L91.40,357.90 L91.40,359.60 L92.85,359.60 L92.85,360.20 L94.30,360.20 L94.30,360.80 L95.45,360.80 L95.45,363.40 L96.60,363.40 L96.60,366.00 L97.80,366.00 L97.80,368.80 L98.93,368.80 L98.93,369.00 L100.07,369.00 L100.07,369.20 L101.20,369.20 L101.20,369.40 L102.35,369.40 L102.35,370.85 L103.50,370.85 L103.50,372.30 L104.95,372.30 L104.95,373.75 L106.40,373.75 L106.40,375.20 L107.77,375.20 L107.77,375.77 L109.13,375.77 L109.13,376.33 L110.50,376.33 L110.50,376.90 L111.87,376.90 L111.87,377.10 L113.23,377.10 L113.23,377.30 L114.60,377.30 L114.60,377.50 L115.80,377.50 L115.80,380.40 L116.05,380.40 L116.05,382.70 L116.30,382.70 L116.30,385.00 L119.20,385.00 L120.40,385.00 L120.40,386.70 L121.50,386.70 L121.50,387.90 L133.70,387.90 L134.20,387.90 L134.20,390.80 L134.80,390.80 L134.80,394.20 L138.30,394.20 L138.80,394.20 L138.80,397.90 L156.70,397.90 L156.70,401.80 L192.50,401.80 L192.50,410.40 L217.10,410.40" fill="none" stroke="#a2233b" stroke-width="1.3" stroke-linejoin="miter"/>
<path d="M81.00,344.07 V349.67 M83.90,347.60 V353.20 M91.50,356.84 V362.44 M97.80,366.00 V371.60 M103.50,369.50 V375.10 M111.20,374.20 V379.80 M114.00,374.61 V380.21 M120.50,384.01 V389.61 M142.90,395.10 V400.70 M160.90,399.00 V404.60 M163.00,399.00 V404.60 M165.50,399.00 V404.60 M167.50,399.00 V404.60 M170.00,399.00 V404.60 M176.80,399.00 V404.60 M194.60,407.60 V413.20 M205.80,407.60 V413.20 M210.50,407.60 V413.20 M217.10,407.60 V413.20" fill="none" stroke="#a2233b" stroke-width="1.05"/>
<path d="M318.4,293.5 V449.7 H512.7" fill="none" stroke="#231f20" stroke-width="1.25"/>
<path d="M314.80,444.50 H318.4 M314.80,408.27 H318.4 M314.80,372.05 H318.4 M314.80,335.82 H318.4 M314.80,299.60 H318.4 M325.40,449.7 V453.30 M343.40,449.7 V453.30 M361.40,449.7 V453.30 M379.40,449.7 V453.30 M397.40,449.7 V453.30 M415.40,449.7 V453.30 M433.40,449.7 V453.30 M451.40,449.7 V453.30 M469.40,449.7 V453.30 M487.40,449.7 V453.30 M505.40,449.7 V453.30" fill="none" stroke="#231f20" stroke-width="0.85"/>
<text x="310.1" y="446.9" font-size="8.4" fill="#231f20" stroke="#231f20" stroke-width="0.25" text-anchor="end" textLength="14.6" lengthAdjust="spacingAndGlyphs">0.00</text>
<text x="310.1" y="410.67499999999995" font-size="8.4" fill="#231f20" stroke="#231f20" stroke-width="0.25" text-anchor="end" textLength="14.6" lengthAdjust="spacingAndGlyphs">0.25</text>
<text x="310.1" y="374.45" font-size="8.4" fill="#231f20" stroke="#231f20" stroke-width="0.25" text-anchor="end" textLength="14.6" lengthAdjust="spacingAndGlyphs">0.50</text>
<text x="310.1" y="338.22499999999997" font-size="8.4" fill="#231f20" stroke="#231f20" stroke-width="0.25" text-anchor="end" textLength="14.6" lengthAdjust="spacingAndGlyphs">0.75</text>
<text x="310.1" y="302.0" font-size="8.4" fill="#231f20" stroke="#231f20" stroke-width="0.25" text-anchor="end" textLength="14.6" lengthAdjust="spacingAndGlyphs">1.00</text>
<text x="325.4" y="463.09999999999997" font-size="8.4" fill="#231f20" stroke="#231f20" stroke-width="0.25" text-anchor="middle" textLength="4.6" lengthAdjust="spacingAndGlyphs">0</text>
<text x="343.4" y="463.09999999999997" font-size="8.4" fill="#231f20" stroke="#231f20" stroke-width="0.25" text-anchor="middle" textLength="4.6" lengthAdjust="spacingAndGlyphs">6</text>
<text x="361.4" y="463.09999999999997" font-size="8.4" fill="#231f20" stroke="#231f20" stroke-width="0.25" text-anchor="middle" textLength="9.0" lengthAdjust="spacingAndGlyphs">12</text>
<text x="379.4" y="463.09999999999997" font-size="8.4" fill="#231f20" stroke="#231f20" stroke-width="0.25" text-anchor="middle" textLength="9.0" lengthAdjust="spacingAndGlyphs">18</text>
<text x="397.4" y="463.09999999999997" font-size="8.4" fill="#231f20" stroke="#231f20" stroke-width="0.25" text-anchor="middle" textLength="9.0" lengthAdjust="spacingAndGlyphs">24</text>
<text x="415.4" y="463.09999999999997" font-size="8.4" fill="#231f20" stroke="#231f20" stroke-width="0.25" text-anchor="middle" textLength="9.0" lengthAdjust="spacingAndGlyphs">30</text>
<text x="433.4" y="463.09999999999997" font-size="8.4" fill="#231f20" stroke="#231f20" stroke-width="0.25" text-anchor="middle" textLength="9.0" lengthAdjust="spacingAndGlyphs">36</text>
<text x="451.4" y="463.09999999999997" font-size="8.4" fill="#231f20" stroke="#231f20" stroke-width="0.25" text-anchor="middle" textLength="9.0" lengthAdjust="spacingAndGlyphs">42</text>
<text x="469.4" y="463.09999999999997" font-size="8.4" fill="#231f20" stroke="#231f20" stroke-width="0.25" text-anchor="middle" textLength="9.0" lengthAdjust="spacingAndGlyphs">48</text>
<text x="487.4" y="463.09999999999997" font-size="8.4" fill="#231f20" stroke="#231f20" stroke-width="0.25" text-anchor="middle" textLength="9.0" lengthAdjust="spacingAndGlyphs">54</text>
<text x="505.4" y="463.09999999999997" font-size="8.4" fill="#231f20" stroke="#231f20" stroke-width="0.25" text-anchor="middle" textLength="9.0" lengthAdjust="spacingAndGlyphs">60</text>
<text x="415.4" y="476.7" font-size="9.6" fill="#231f20" stroke="#231f20" stroke-width="0.3" text-anchor="middle" textLength="120.2" lengthAdjust="spacingAndGlyphs">Time since inclusion (months)</text>
<text transform="translate(289.6,371.85) rotate(-90)" font-size="9.6" fill="#231f20" stroke="#231f20" stroke-width="0.25" text-anchor="middle" textLength="61.5" lengthAdjust="spacingAndGlyphs">EFS probability</text>
<text x="366.3" y="288.8" font-size="8.7" fill="#231f20" stroke="#231f20" stroke-width="0.25" text-anchor="start" textLength="99.5" lengthAdjust="spacingAndGlyphs">Event-free survival - Age &gt; 60</text>
<text x="267.8" y="278.8" font-size="11.2" fill="#231f20" stroke="#231f20" stroke-width="0.12" text-anchor="start" textLength="8.0" lengthAdjust="spacingAndGlyphs">D</text>
<text x="288.8" y="488.9" font-size="8.8" fill="#231f20" stroke="#231f20" stroke-width="0.25" text-anchor="start" textLength="23.5" lengthAdjust="spacingAndGlyphs">Cohort</text>
<text x="309.5" y="500.7" font-size="8.8" fill="#231f20" stroke="#231f20" stroke-width="0.25" text-anchor="end" textLength="20.8" lengthAdjust="spacingAndGlyphs">16-10:</text>
<text x="325.4" y="500.7" font-size="8.8" fill="#a2233b" stroke="#a2233b" stroke-width="0.15" text-anchor="middle" textLength="8.8" lengthAdjust="spacingAndGlyphs">86</text>
<text x="343.4" y="500.7" font-size="8.8" fill="#a2233b" stroke="#a2233b" stroke-width="0.15" text-anchor="middle" textLength="8.8" lengthAdjust="spacingAndGlyphs">23</text>
<text x="361.4" y="500.7" font-size="8.8" fill="#a2233b" stroke="#a2233b" stroke-width="0.15" text-anchor="middle" textLength="8.8" lengthAdjust="spacingAndGlyphs">14</text>
<text x="379.4" y="500.7" font-size="8.8" fill="#a2233b" stroke="#a2233b" stroke-width="0.15" text-anchor="middle" textLength="4.6" lengthAdjust="spacingAndGlyphs">8</text>
<text x="397.4" y="500.7" font-size="8.8" fill="#a2233b" stroke="#a2233b" stroke-width="0.15" text-anchor="middle" textLength="4.6" lengthAdjust="spacingAndGlyphs">3</text>
<text x="415.4" y="500.7" font-size="8.8" fill="#a2233b" stroke="#a2233b" stroke-width="0.15" text-anchor="middle" textLength="4.6" lengthAdjust="spacingAndGlyphs">2</text>
<text x="433.4" y="500.7" font-size="8.8" fill="#a2233b" stroke="#a2233b" stroke-width="0.15" text-anchor="middle" textLength="4.6" lengthAdjust="spacingAndGlyphs">1</text>
<text x="451.4" y="500.7" font-size="8.8" fill="#a2233b" stroke="#a2233b" stroke-width="0.15" text-anchor="middle" textLength="4.6" lengthAdjust="spacingAndGlyphs">1</text>
<text x="469.4" y="500.7" font-size="8.8" fill="#a2233b" stroke="#a2233b" stroke-width="0.15" text-anchor="middle" textLength="4.6" lengthAdjust="spacingAndGlyphs">0</text>
<text x="487.4" y="500.7" font-size="8.8" fill="#a2233b" stroke="#a2233b" stroke-width="0.15" text-anchor="middle" textLength="4.6" lengthAdjust="spacingAndGlyphs">0</text>
<text x="505.4" y="500.7" font-size="8.8" fill="#a2233b" stroke="#a2233b" stroke-width="0.15" text-anchor="middle" textLength="4.6" lengthAdjust="spacingAndGlyphs">0</text>
<text x="309.5" y="512.5" font-size="8.8" fill="#231f20" stroke="#231f20" stroke-width="0.25" text-anchor="end" textLength="33.2" lengthAdjust="spacingAndGlyphs">historical:</text>
<text x="325.4" y="512.5" font-size="8.8" fill="#365782" stroke="#365782" stroke-width="0.15" text-anchor="middle" textLength="8.8" lengthAdjust="spacingAndGlyphs">62</text>
<text x="343.4" y="512.5" font-size="8.8" fill="#365782" stroke="#365782" stroke-width="0.15" text-anchor="middle" textLength="8.8" lengthAdjust="spacingAndGlyphs">17</text>
<text x="361.4" y="512.5" font-size="8.8" fill="#365782" stroke="#365782" stroke-width="0.15" text-anchor="middle" textLength="4.6" lengthAdjust="spacingAndGlyphs">5</text>
<text x="379.4" y="512.5" font-size="8.8" fill="#365782" stroke="#365782" stroke-width="0.15" text-anchor="middle" textLength="4.6" lengthAdjust="spacingAndGlyphs">3</text>
<text x="397.4" y="512.5" font-size="8.8" fill="#365782" stroke="#365782" stroke-width="0.15" text-anchor="middle" textLength="4.6" lengthAdjust="spacingAndGlyphs">2</text>
<text x="415.4" y="512.5" font-size="8.8" fill="#365782" stroke="#365782" stroke-width="0.15" text-anchor="middle" textLength="4.6" lengthAdjust="spacingAndGlyphs">2</text>
<text x="433.4" y="512.5" font-size="8.8" fill="#365782" stroke="#365782" stroke-width="0.15" text-anchor="middle" textLength="4.6" lengthAdjust="spacingAndGlyphs">2</text>
<text x="451.4" y="512.5" font-size="8.8" fill="#365782" stroke="#365782" stroke-width="0.15" text-anchor="middle" textLength="4.6" lengthAdjust="spacingAndGlyphs">2</text>
<text x="469.4" y="512.5" font-size="8.8" fill="#365782" stroke="#365782" stroke-width="0.15" text-anchor="middle" textLength="4.6" lengthAdjust="spacingAndGlyphs">2</text>
<text x="487.4" y="512.5" font-size="8.8" fill="#365782" stroke="#365782" stroke-width="0.15" text-anchor="middle" textLength="4.6" lengthAdjust="spacingAndGlyphs">2</text>
<text x="505.4" y="512.5" font-size="8.8" fill="#365782" stroke="#365782" stroke-width="0.15" text-anchor="middle" textLength="4.6" lengthAdjust="spacingAndGlyphs">2</text>
<path d="M325.40,299.60 L326.10,299.60 L326.53,299.60 L326.53,302.03 L326.95,302.03 L326.95,304.45 L327.38,304.45 L327.38,306.88 L327.80,306.88 L327.80,309.30 L328.04,309.30 L328.04,311.60 L328.28,311.60 L328.28,313.90 L328.52,313.90 L328.52,316.20 L328.76,316.20 L328.76,318.50 L329.00,318.50 L329.00,320.80 L329.07,320.80 L329.07,323.60 L329.15,323.60 L329.15,326.40 L329.23,326.40 L329.23,329.20 L329.30,329.20 L329.30,332.00 L329.44,332.00 L329.44,334.40 L329.58,334.40 L329.58,336.80 L329.72,336.80 L329.72,339.20 L329.86,339.20 L329.86,341.60 L330.00,341.60 L330.00,344.00 L330.27,344.00 L330.27,346.67 L330.53,346.67 L330.53,349.33 L330.80,349.33 L330.80,352.00 L331.15,352.00 L331.15,354.50 L331.50,354.50 L331.50,357.00 L332.03,357.00 L332.03,359.53 L332.57,359.53 L332.57,362.07 L333.10,362.07 L333.10,364.60 L333.67,364.60 L333.67,366.90 L334.23,366.90 L334.23,369.20 L334.80,369.20 L334.80,371.50 L335.37,371.50 L335.37,373.83 L335.93,373.83 L335.93,376.17 L336.50,376.17 L336.50,378.50 L337.10,378.50 L337.10,381.35 L337.70,381.35 L337.70,384.20 L338.50,384.20 L338.50,387.70 L339.25,387.70 L339.25,389.60 L340.00,389.60 L340.00,391.50 L340.75,391.50 L340.75,393.45 L341.50,393.45 L341.50,395.40 L342.30,395.40 L342.30,398.50 L345.40,398.50 L346.20,398.50 L346.20,401.50 L346.95,401.50 L346.95,403.45 L347.70,403.45 L347.70,405.40 L348.10,405.40 L348.10,408.10 L348.50,408.10 L348.50,410.80 L348.85,410.80 L348.85,413.85 L349.20,413.85 L349.20,416.90 L353.80,416.90 L354.60,416.90 L354.60,420.00 L357.70,420.00 L358.10,420.00 L358.10,422.70 L358.50,422.70 L358.50,425.40 L360.00,425.40 L360.80,425.40 L360.80,428.90 L376.20,428.90 L376.20,431.50 L379.20,431.50 L379.20,433.80 L383.80,433.80 L383.80,437.60 L505.50,437.60" fill="none" stroke="#365782" stroke-width="1.3" stroke-linejoin="miter"/>
<path d="M326.00,298.70 V304.30 M339.20,386.67 V392.27 M354.60,417.20 V422.80" fill="none" stroke="#365782" stroke-width="1.05"/>
<path d="M326.60,299.60 L327.20,299.60 L327.20,302.07 L327.80,302.07 L327.80,304.53 L328.40,304.53 L328.40,307.00 L328.67,307.00 L328.67,309.60 L328.95,309.60 L328.95,312.20 L329.23,312.20 L329.23,314.80 L329.50,314.80 L329.50,317.40 L329.90,317.40 L329.90,320.10 L330.30,320.10 L330.30,322.80 L330.70,322.80 L330.70,325.50 L331.00,325.50 L331.00,327.75 L331.30,327.75 L331.30,330.00 L332.40,330.00 L332.40,331.20 L333.05,331.20 L333.05,334.05 L333.70,334.05 L333.70,336.90 L335.40,336.90 L335.40,340.40 L335.95,340.40 L335.95,342.70 L336.50,342.70 L336.50,345.00 L345.20,345.00 L345.35,345.00 L345.35,347.30 L345.50,347.30 L345.50,349.60 L345.65,349.60 L345.65,351.90 L345.80,351.90 L345.80,354.20 L355.00,354.20 L355.20,354.20 L355.20,356.33 L355.40,356.33 L355.40,358.47 L355.60,358.47 L355.60,360.60 L356.15,360.60 L356.15,362.60 L356.70,362.60 L356.70,364.60 L357.00,364.60 L357.00,367.50 L357.30,367.50 L357.30,370.40 L363.10,370.40 L363.40,370.40 L363.40,372.70 L363.70,372.70 L363.70,375.00 L364.25,375.00 L364.25,377.90 L364.80,377.90 L364.80,380.80 L370.00,380.80 L370.00,387.50 L376.90,387.50 L376.90,393.80 L380.00,393.80 L380.00,400.00 L393.80,400.00 L393.80,408.50 L395.40,408.50 L395.40,417.50 L456.30,417.50" fill="none" stroke="#a2233b" stroke-width="1.3" stroke-linejoin="miter"/>
<path d="M336.80,342.20 V347.80 M337.80,342.20 V347.80 M338.80,342.20 V347.80 M339.80,342.20 V347.80 M340.80,342.20 V347.80 M342.00,342.20 V347.80 M343.50,342.20 V347.80 M346.90,351.40 V357.00 M352.10,351.40 V357.00 M367.70,378.00 V383.60 M383.10,397.20 V402.80 M403.90,414.70 V420.30 M425.80,414.70 V420.30 M456.30,414.70 V420.30" fill="none" stroke="#a2233b" stroke-width="1.05"/>
</svg>
</body></html>
